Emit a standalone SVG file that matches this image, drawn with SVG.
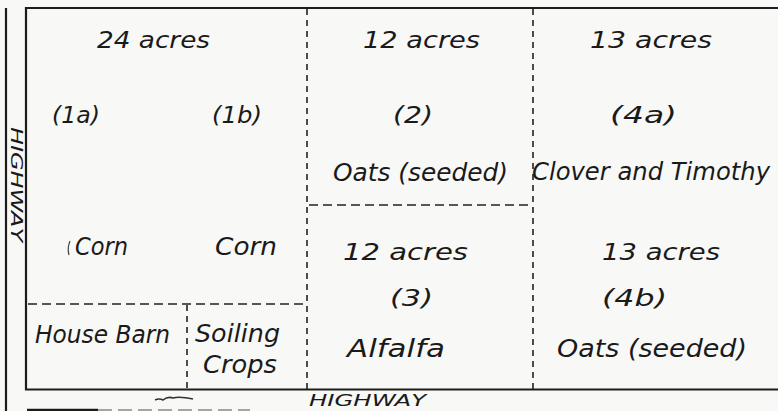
<svg xmlns="http://www.w3.org/2000/svg" width="778" height="411" viewBox="0 0 778 411">
<style>
.bg{fill:#f8f8f6}
.solid{stroke:#1c1c1c;stroke-width:2.2;fill:none}
.dash{stroke:#222;stroke-width:1.6;fill:none;stroke-dasharray:6 5}
.hdash{stroke:#222;stroke-width:1.6;fill:none;stroke-dasharray:9 5}
text{font-family:"DejaVu Sans","Liberation Sans",sans-serif;font-style:italic;fill:#1a1a1a}
.a{font-size:23px}
.l{font-size:25px}
.h{font-size:16px}
</style>
<rect class="bg" x="0" y="0" width="778" height="411"/>
<g id="frame">
<line class="solid" x1="6" y1="8" x2="6" y2="411"/>
<path class="solid" d="M778 8 L26 8 L26 389.5 L778 389.5"/>
<line stroke="#1c1c1c" stroke-width="2.4" x1="27" y1="410" x2="98" y2="410"/>
<line stroke="#888" stroke-width="1.4" x1="98" y1="410" x2="250" y2="410" stroke-dasharray="14 6"/>
<path d="M155 400 q4 -2 8 0 q5 -4 10 -2 q6 -2 20 1" stroke="#333" stroke-width="1.6" fill="none"/>
</g>
<g id="connectors">
<line class="dash" x1="307" y1="9" x2="307" y2="389"/>
<line class="dash" x1="533" y1="9" x2="533" y2="389"/>
<line class="hdash" x1="309" y1="205" x2="533" y2="205"/>
<line class="hdash" x1="28" y1="304" x2="307" y2="304"/>
<line class="dash" x1="187" y1="305" x2="187" y2="389"/>
</g>
<g id="field1">
<text class="a" x="97" y="48" textLength="113" lengthAdjust="spacingAndGlyphs">24 acres</text>
<text class="a" x="52" y="123" textLength="48" lengthAdjust="spacingAndGlyphs">(1a)</text>
<text class="a" x="212" y="123" textLength="50" lengthAdjust="spacingAndGlyphs">(1b)</text>
<path d="M70 241 q-3 7 -1 14" stroke="#444" stroke-width="1.2" fill="none"/>
<text class="l" x="75" y="255" textLength="53" lengthAdjust="spacingAndGlyphs">Corn</text>
<text class="l" x="215" y="255" textLength="62" lengthAdjust="spacingAndGlyphs">Corn</text>
</g>
<g id="field2">
<text class="a" x="363" y="48" textLength="117" lengthAdjust="spacingAndGlyphs">12 acres</text>
<text class="a" x="393" y="123" textLength="40" lengthAdjust="spacingAndGlyphs">(2)</text>
<text class="l" x="333" y="181" textLength="175" lengthAdjust="spacingAndGlyphs">Oats (seeded)</text>
</g>
<g id="field4a">
<text class="a" x="590" y="48" textLength="122" lengthAdjust="spacingAndGlyphs">13 acres</text>
<text class="a" x="610" y="123" textLength="67" lengthAdjust="spacingAndGlyphs">(4a)</text>
<text class="l" x="532" y="180" textLength="238" lengthAdjust="spacingAndGlyphs">Clover and Timothy</text>
</g>
<g id="field3">
<text class="a" x="343" y="260" textLength="125" lengthAdjust="spacingAndGlyphs">12 acres</text>
<text class="a" x="390" y="306" textLength="43" lengthAdjust="spacingAndGlyphs">(3)</text>
<text class="l" x="347" y="357" textLength="98" lengthAdjust="spacingAndGlyphs">Alfalfa</text>
</g>
<g id="field4b">
<text class="a" x="602" y="260" textLength="118" lengthAdjust="spacingAndGlyphs">13 acres</text>
<text class="a" x="602" y="306" textLength="65" lengthAdjust="spacingAndGlyphs">(4b)</text>
<text class="l" x="557" y="357" textLength="190" lengthAdjust="spacingAndGlyphs">Oats (seeded)</text>
</g>
<g id="house-barn">
<text class="l" x="35" y="343" textLength="135" lengthAdjust="spacingAndGlyphs">House Barn</text>
</g>
<g id="soiling-crops">
<text class="l" x="195" y="342" textLength="85" lengthAdjust="spacingAndGlyphs">Soiling</text>
<text class="l" x="203" y="373" textLength="74" lengthAdjust="spacingAndGlyphs">Crops</text>
</g>
<g id="highways">
<text class="h" x="309" y="406" textLength="117" lengthAdjust="spacingAndGlyphs">HIGHWAY</text>
<text class="h" transform="translate(11 127) rotate(90)" x="0" y="0" textLength="115" lengthAdjust="spacingAndGlyphs">HIGHWAY</text>
</g>
</svg>
